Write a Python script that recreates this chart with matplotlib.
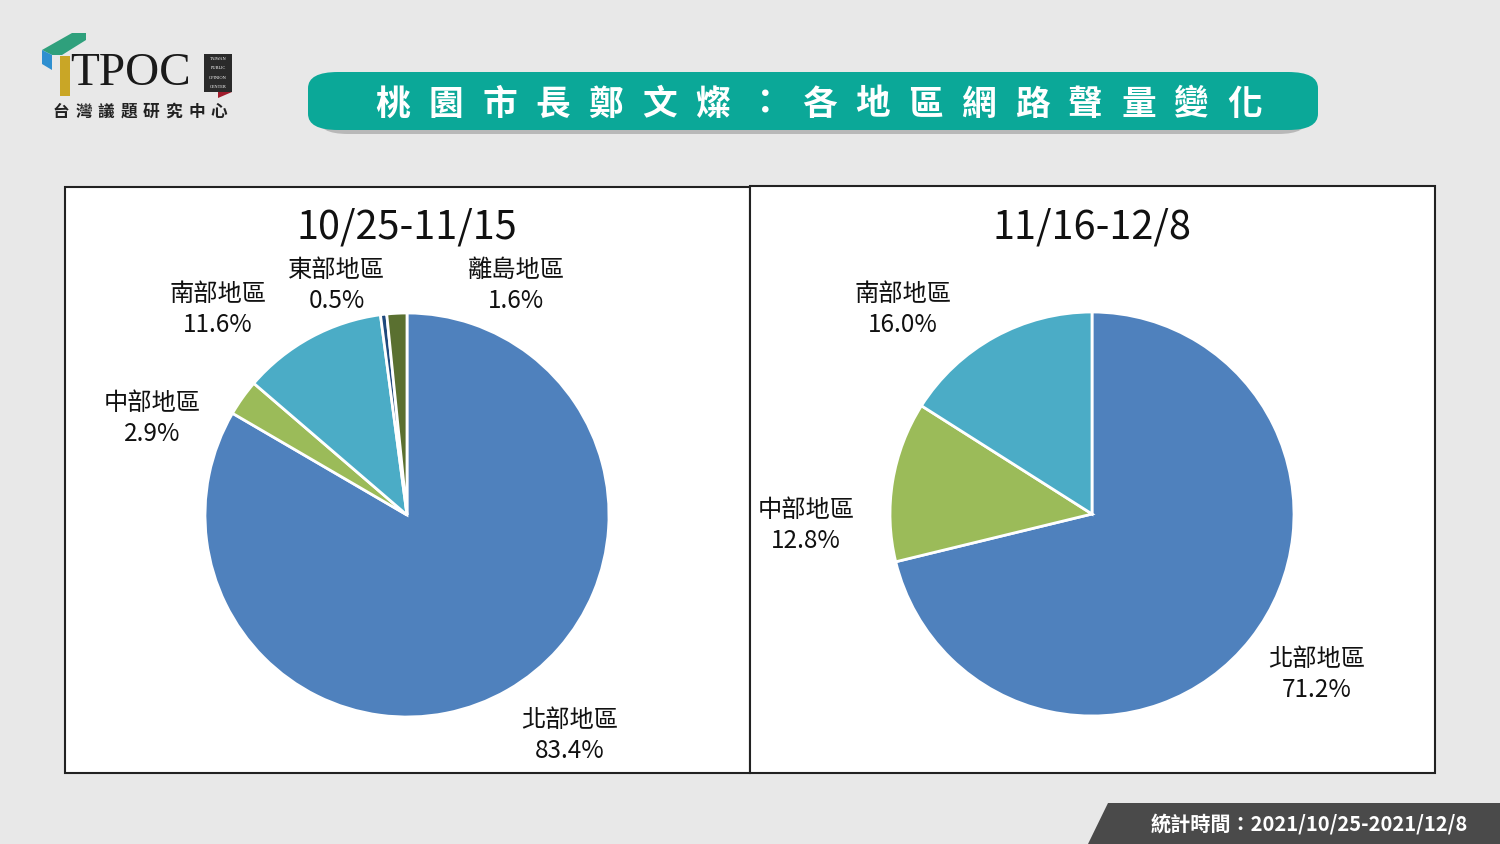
import matplotlib
matplotlib.use("Agg")
import matplotlib.pyplot as plt
from matplotlib.patches import Rectangle, Polygon, FancyBboxPatch

plt.rcParams['font.family'] = ['Noto Sans CJK TC', 'DejaVu Sans']

# data
regions_1 = ['北部地區', '中部地區', '南部地區', '東部地區', '離島地區']
share_1 = [83.4, 2.9, 11.6, 0.5, 1.6]
regions_2 = ['北部地區', '中部地區', '南部地區']
share_2 = [71.2, 12.8, 16.0]
period_1 = '10/25-11/15'
period_2 = '11/16-12/8'
title_chars = list('桃園市長鄭文燦：各地區網路聲量變化')
footer = '統計時間：2021/10/25-2021/12/8'

colors = {'北部地區': '#4f81bd', '中部地區': '#9bbb59', '南部地區': '#4bacc6',
          '東部地區': '#1f497d', '離島地區': '#5a7030'}

W, H = 1500, 844
fig = plt.figure(figsize=(W / 100, H / 100), dpi=100)
fig.patch.set_facecolor('#e8e8e8')


def fx(x):
    return x / W


def fy(y):
    return 1 - y / H


# panels
for x0, y0, x1, y1 in [(65, 187, 750, 773), (750, 186, 1435, 773)]:
    fig.add_artist(Rectangle((fx(x0), fy(y1)), fx(x1 - x0), (y1 - y0) / H,
                             facecolor='white', edgecolor='#222222', lw=1.5, zorder=-1))

# title banner with shadow
fig.add_artist(FancyBboxPatch((fx(318), fy(134)), fx(990), 50 / H,
                              boxstyle='round,pad=0,rounding_size=0.02',
                              facecolor='#b8b8b8', edgecolor='none',
                              mutation_aspect=H / W * 1.7))
fig.add_artist(FancyBboxPatch((fx(308), fy(130)), fx(1010), 58 / H,
                              boxstyle='round,pad=0,rounding_size=0.02',
                              facecolor='#0ba898', edgecolor='none',
                              mutation_aspect=H / W * 1.7))
step = (1245 - 393) / (len(title_chars) - 1)
for i, ch in enumerate(title_chars):
    fig.text(fx(393 + i * step), fy(104), ch, color='white', fontsize=25,
             fontweight='bold', ha='center', va='center')

# logo
fig.add_artist(Polygon([(fx(42), fy(50)), (fx(72), fy(33)), (fx(86), fy(33)), (fx(86), fy(40)), (fx(62), fy(55)), (fx(52), fy(55))],
                       facecolor='#2fa07c', edgecolor='none'))
fig.add_artist(Polygon([(fx(42), fy(50)), (fx(52), fy(55)), (fx(52), fy(70)), (fx(42), fy(64))],
                       facecolor='#2f8fd0', edgecolor='none'))
fig.add_artist(Polygon([(fx(60), fy(56)), (fx(70), fy(56)), (fx(70), fy(96)), (fx(60), fy(96))],
                       facecolor='#c9a626', edgecolor='none'))
fig.text(fx(70), fy(74), 'TPOC', fontsize=34, family=['Liberation Serif'], color='#1a1a1a',
         ha='left', va='center')
fig.add_artist(Rectangle((fx(204), fy(92)), fx(28), 38 / H, facecolor='#2a2a2a', edgecolor='none'))
fig.add_artist(Polygon([(fx(218), fy(92)), (fx(232), fy(92)), (fx(218), fy(98))],
                       facecolor='#a01c2c', edgecolor='none'))
for j, word in enumerate(['TAIWAN', 'PUBLIC', 'OPINION', 'CENTER']):
    fig.text(fx(218), fy(59 + j * 9.3), word, fontsize=3.2, family=['Liberation Serif'],
             color='white', ha='center', va='center')
for j, ch in enumerate('台灣議題研究中心'):
    fig.text(fx(61 + j * 22.6), fy(112), ch, fontsize=12, fontweight='bold',
             color='#222222', ha='center', va='center')

# footer
fig.add_artist(Polygon([(fx(1088), 0), (fx(1108), fy(803)), (1, fy(803)), (1, 0)],
                       facecolor='#4a4a4a', edgecolor='none'))
fig.text(fx(1309), fy(825), footer, color='white', fontsize=14.5, fontweight='bold',
         ha='center', va='center')


def draw_pie(cx, cy, r, names, values, title, label_pos):
    ax = fig.add_axes([fx(cx - r), fy(cy + r), fx(2 * r), 2 * r / H])
    ax.set_zorder(2)
    ax.pie(values, colors=[colors[n] for n in names], startangle=90, counterclock=False,
           wedgeprops=dict(edgecolor='white', linewidth=2))
    ax.set_xlim(-1, 1)
    ax.set_ylim(-1, 1)
    ax.set_aspect('equal')
    ax.axis('off')
    for n, v in zip(names, values):
        x, y = label_pos[n]
        ax.text(x, y - 0.015, f'{n}\n{v:.1f}%', ha='center', va='center', fontsize=17.5,
                linespacing=1.25, color='#111111', clip_on=False)
    fig.text(fx(cx), fy(227), title, ha='center', va='center', fontsize=28.5, color='#111111')


draw_pie(407, 515, 202, regions_1, share_1, period_1,
         {'北部地區': (0.807, -1.079), '中部地區': (-1.262, 0.495), '南部地區': (-0.936, 1.03),
          '東部地區': (-0.347, 1.149), '離島地區': (0.54, 1.149)})
draw_pie(1092, 514, 202, regions_2, share_2, period_2,
         {'北部地區': (1.114, -0.782), '中部地區': (-1.416, -0.04), '南部地區': (-0.936, 1.025)})

fig.savefig('out.png', dpi=100, facecolor=fig.get_facecolor())
